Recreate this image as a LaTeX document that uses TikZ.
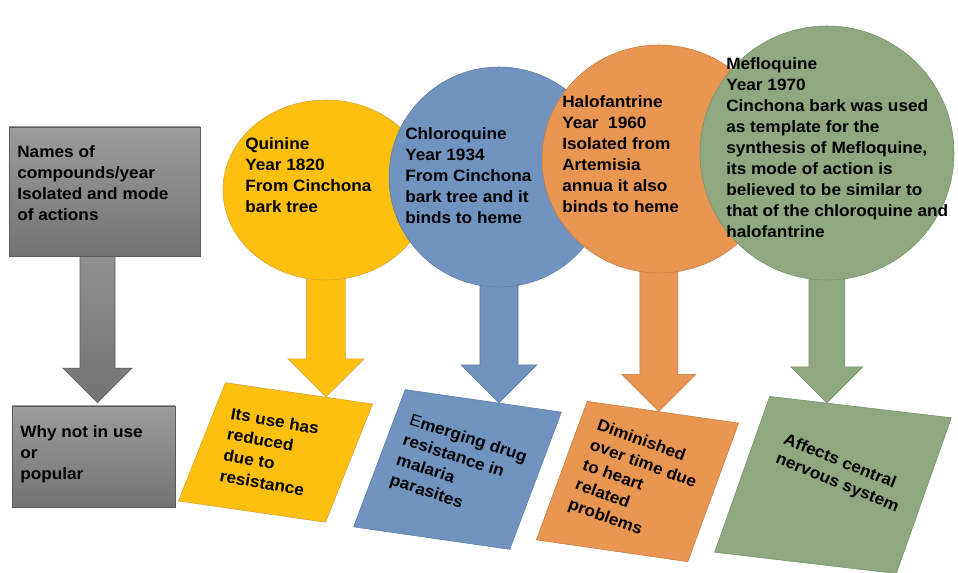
\documentclass[tikz,border=0pt]{standalone}
\usepackage{fontspec}
\setmainfont{Liberation Sans}[FakeStretch=1.05]
\usetikzlibrary{shapes.geometric, positioning, calc, backgrounds}

\definecolor{quinfill}{HTML}{FEC00F}
\definecolor{quinline}{HTML}{CFA23C}
\definecolor{chlorofill}{HTML}{7093BF}
\definecolor{choroline}{HTML}{5A7BA5}
\definecolor{halofill}{HTML}{E89652}
\definecolor{haloline}{HTML}{C67B3E}
\definecolor{meflofill}{HTML}{8FA880}
\definecolor{mefloline}{HTML}{71906A}
\definecolor{graytop}{HTML}{9C9C9C}
\definecolor{graybot}{HTML}{737373}
\definecolor{boxline}{HTML}{5A5A5A}

\newcommand{\px}{0.75pt}
% block arrow: style, from, tip, shaft half width, head half width
\newcommand{\fatarrow}[5]{%
  \path[#1] let \p1=#2, \p2=#3 in
    (\x2-#4,\y1) -- (\x2-#4,\y2+#5) -- (\x2-#5,\y2+#5) -- (\x2,\y2)
    -- (\x2+#5,\y2+#5) -- (\x2+#4,\y2+#5) -- (\x2+#4,\y1) -- cycle;}

\begin{document}
\begin{tikzpicture}[
      x=0.75pt, y=-0.75pt,
      txt/.style={
          align=left,
          anchor=north west,
          inner sep=0pt,
          font=\fontsize{12.3}{15.8}\selectfont\bfseries
        },
      graybox/.style={
          rectangle,
          draw=boxline,
          top color=graytop,
          bottom color=graybot,
          inner sep=0pt
        },
      bubble/.style={
          ellipse,
          draw,
          inner sep=0pt
        },
      reason/.style={
          trapezium,
          trapezium left angle=76,
          trapezium right angle=104,
          trapezium stretches=true,
          draw,
          inner sep=2pt
        }
    ]
    \useasboundingbox (0,0) rectangle (958,573);

    % Left boxes
    \node[graybox, minimum width=191*\px, minimum height=129*\px] (names) at (104.5,191.5) {};
    \node[graybox, minimum width=163*\px, minimum height=101*\px] (whybox) at (93.5,456.5) {};

    % Compounds
    \node[bubble, fill=quinfill, draw=quinline, minimum width=206*\px, minimum height=180*\px] (quinine) at (326,190) {};
    \node[bubble, fill=chlorofill, draw=choroline, minimum width=220*\px, minimum height=220*\px] (chloro) at (499,177) {};
    \node[bubble, fill=halofill, draw=haloline, minimum width=234*\px, minimum height=228*\px] (halo) at (659,159) {};
    \node[bubble, fill=meflofill, draw=mefloline, minimum width=254*\px, minimum height=254*\px] (meflo) at (827,153) {};

    % Reasons
    \node[reason, fill=quinfill, draw=quinline, rotate=-8.2, minimum width=178.4*\px, minimum height=123.8*\px] (quinpar) at (275.5,452.5) {};
    \node[reason, fill=chlorofill, draw=choroline, rotate=-8.2, minimum width=189.3*\px, minimum height=143.2*\px] (chloropar) at (457.5,469.5) {};
    \node[reason, fill=halofill, draw=haloline, rotate=-8.2, minimum width=183.5*\px, minimum height=144.4*\px] (halopar) at (637.5,481.5) {};
    \node[reason, fill=meflofill, draw=mefloline, rotate=-6.7, minimum width=219.4*\px, minimum height=161.2*\px] (meflopar) at (833,485) {};

    % Texts
    \node[txt] (namestxt) at (17,145) {Names of\\compounds/year\\Isolated and mode\\of actions};
    \node[txt] (whytxt) at (20,425) {Why not in use\\or\\popular};
    \node[txt] (quininetxt) at (245,137) {Quinine\\Year 1820\\From Cinchona\\bark tree};
    \node[txt] (chlorotxt) at (405,127) {Chloroquine\\Year 1934\\From Cinchona\\bark tree and it\\binds to heme};
    \node[txt] (halotxt) at (562,95) {Halofantrine\\Year\ \ 1960\\Isolated from\\Artemisia\\annua it also\\binds to heme};
    \node[txt] (meflotxt) at (726,57) {Mefloquine\\Year 1970\\Cinchona bark was used\\as template for the\\synthesis of Mefloquine,\\its mode of action is\\believed to be similar to\\that of the chloroquine and\\halofantrine};
    \node[txt, rotate=-10] (quinwhy) at (232,407) {Its use has\\reduced\\due to\\resistance};
    \node[txt, rotate=-18] (chlorowhy) at (412,413) {{\mdseries E}merging drug\\resistance in\\malaria\\parasites};
    \node[txt, rotate=-20] (halowhy) at (600,418) {Diminished\\over time due\\to heart\\related\\problems};
    \node[txt, rotate=-22] (meflowhy) at (787,432) {Affects central\\nervous system};

    % Arrow tips
    \coordinate (graytip) at ($(whybox.north)+(4,-3)$);
    \coordinate (quintip) at (intersection of quinine.center--quinine.south and quinpar.top left corner--quinpar.top right corner);
    \coordinate (chlorotip) at (intersection of chloro.center--chloro.south and chloropar.top left corner--chloropar.top right corner);
    \coordinate (halotip) at (intersection of halo.center--halo.south and halopar.top left corner--halopar.top right corner);
    \coordinate (meflotip) at (intersection of meflo.center--meflo.south and meflopar.top left corner--meflopar.top right corner);

    % Arrows
    \begin{scope}[on background layer]
      \fatarrow{top color=graytop, bottom color=graybot, draw=boxline}{(names.center)}{(graytip)}{17.5*\px}{34.5*\px}
      \fatarrow{fill=quinfill, draw=quinline}{(quinine.center)}{(quintip)}{19.5*\px}{38*\px}
      \fatarrow{fill=chlorofill, draw=choroline}{(chloro.center)}{(chlorotip)}{19*\px}{38*\px}
      \fatarrow{fill=halofill, draw=haloline}{(halo.center)}{(halotip)}{19*\px}{37*\px}
      \fatarrow{fill=meflofill, draw=mefloline}{(meflo.center)}{(meflotip)}{18*\px}{36*\px}
    \end{scope}

  \end{tikzpicture}
\end{document}
